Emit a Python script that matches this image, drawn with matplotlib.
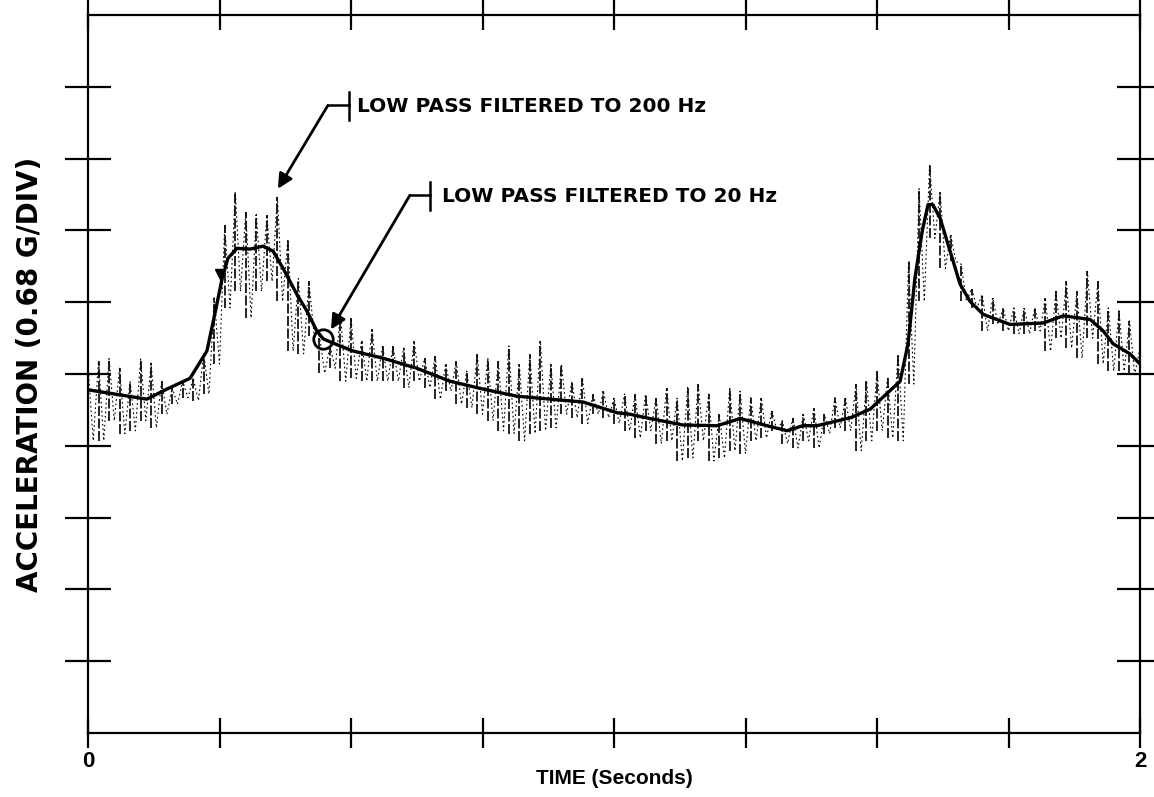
import numpy as np
import matplotlib
matplotlib.use("Agg")
import matplotlib.pyplot as plt

plt.rcParams['font.family'] = ['Liberation Sans', 'DejaVu Sans']
plt.rcParams['font.weight'] = 'bold'

# 20 Hz filtered trace (time in s, acceleration in divisions of 0.68 G)
t_smooth = [0.000, 0.112, 0.150, 0.194, 0.226, 0.241, 0.255, 0.266, 0.283, 0.308,
            0.333, 0.352, 0.371, 0.397, 0.416, 0.435, 0.447, 0.466, 0.504, 0.561,
            0.625, 0.688, 0.751, 0.816, 0.878, 0.941, 1.006, 1.030, 1.068, 1.131,
            1.196, 1.240, 1.291, 1.329, 1.359, 1.386, 1.449, 1.487, 1.544, 1.559,
            1.572, 1.586, 1.597, 1.606, 1.620, 1.639, 1.658, 1.677, 1.702, 1.753,
            1.816, 1.854, 1.905, 1.930, 1.949, 1.981, 2.000]
acc_smooth = [4.78, 4.65, 4.79, 4.94, 5.32, 5.83, 6.33, 6.61, 6.75, 6.74,
              6.78, 6.71, 6.47, 6.11, 5.88, 5.60, 5.49, 5.43, 5.32, 5.22,
              5.08, 4.90, 4.79, 4.69, 4.65, 4.61, 4.46, 4.44, 4.38, 4.29,
              4.28, 4.38, 4.28, 4.21, 4.28, 4.28, 4.39, 4.51, 4.90, 5.42,
              6.33, 6.99, 7.36, 7.36, 7.17, 6.71, 6.25, 6.01, 5.83, 5.69,
              5.71, 5.81, 5.76, 5.60, 5.42, 5.28, 5.14]

# 200 Hz filtered trace, spike extent every 0.02 s
t_raw = np.arange(101) * 0.02
raw_hi = [5.11, 5.18, 5.22, 5.08, 4.90, 5.21, 5.15, 4.90, 4.81, 4.90,
          4.94, 5.28, 6.06, 7.08, 7.54, 7.26, 7.22, 7.22, 7.47, 6.88,
          6.33, 6.29, 5.53, 5.39, 5.83, 5.78, 5.46, 5.63, 5.39, 5.39,
          5.36, 5.46, 5.22, 5.25, 5.14, 5.18, 5.04, 5.28, 5.22, 5.18,
          5.39, 5.14, 5.28, 5.46, 5.14, 5.14, 4.90, 4.94, 4.72, 4.76,
          4.67, 4.72, 4.72, 4.72, 4.67, 4.81, 4.67, 4.81, 4.86, 4.72,
          4.44, 4.81, 4.76, 4.67, 4.67, 4.49, 4.35, 4.39, 4.44, 4.53,
          4.44, 4.67, 4.67, 4.86, 4.90, 5.04, 4.94, 5.28, 6.57, 7.58,
          7.92, 7.54, 6.94, 6.53, 6.19, 6.11, 6.06, 5.92, 5.92, 5.92,
          5.92, 6.06, 6.15, 6.29, 6.15, 6.43, 6.29, 5.92, 5.88, 5.74,
          5.36]
raw_lo = [4.07, 4.07, 4.35, 4.17, 4.21, 4.35, 4.25, 4.44, 4.58, 4.67,
          4.63, 4.72, 5.14, 5.92, 6.15, 5.78, 6.15, 6.29, 6.01, 5.32,
          5.28, 5.53, 5.01, 5.08, 4.90, 4.94, 4.90, 4.90, 4.90, 4.90,
          4.81, 4.90, 4.81, 4.65, 4.76, 4.58, 4.53, 4.44, 4.35, 4.21,
          4.17, 4.07, 4.17, 4.21, 4.25, 4.44, 4.39, 4.31, 4.44, 4.39,
          4.31, 4.21, 4.11, 4.21, 4.03, 4.07, 3.79, 3.83, 4.07, 3.79,
          3.83, 3.93, 3.89, 4.07, 4.11, 4.21, 4.03, 3.97, 4.07, 3.97,
          4.17, 4.25, 4.21, 3.93, 4.07, 4.21, 4.11, 4.07, 4.86, 6.01,
          6.89, 6.47, 6.57, 6.01, 5.92, 5.60, 5.69, 5.60, 5.56, 5.56,
          5.60, 5.32, 5.50, 5.36, 5.22, 5.50, 5.14, 5.04, 5.04, 4.99,
          4.86]

label_200 = "LOW PASS FILTERED TO 200 Hz"
label_20 = "LOW PASS FILTERED TO 20 Hz"

fig = plt.figure(figsize=(11.54, 7.97), dpi=100)
ax = fig.add_axes([88 / 1154, 64 / 797, 1052 / 1154, 718 / 797])

# raw trace: dotted zigzag between peak and trough, plus broken spikes
zig_t = np.column_stack([t_raw, t_raw + 0.01]).ravel()[:-1]
zig_v = np.column_stack([raw_hi, raw_lo]).ravel()[:-1]
ax.plot(zig_t, zig_v, color='black', lw=0.8, ls=(0, (1.5, 2.5)))
ax.vlines(t_raw, raw_lo, raw_hi, color='black', lw=1.2, linestyles=(0, (6, 1.5)))

ax.plot(t_smooth, acc_smooth, color='black', lw=2.4, solid_joinstyle='round',
        solid_capstyle='round')

# markers tagging each trace
ax.plot([0.447], [5.49], 'o', ms=14, mfc='none', mec='black', mew=2)
ax.plot([0.251], [6.39], 'v', ms=7, color='black')

# callouts
ax.plot([0.456, 0.496], [8.74, 8.74], color='black', lw=1.8)
ax.plot([0.496, 0.496], [8.54, 8.93], color='black', lw=1.8)
ax.annotate('', xy=(0.361, 7.58), xytext=(0.456, 8.74),
            arrowprops=dict(arrowstyle='-|>', lw=2, color='black',
                            mutation_scale=22, shrinkA=0, shrinkB=0))
ax.text(0.511, 8.72, label_200, fontsize=14.5, va='center', ha='left',
        family='DejaVu Sans', fontweight='bold')

ax.plot([0.612, 0.650], [7.49, 7.49], color='black', lw=1.8)
ax.plot([0.650, 0.650], [7.28, 7.68], color='black', lw=1.8)
ax.annotate('', xy=(0.462, 5.62), xytext=(0.612, 7.49),
            arrowprops=dict(arrowstyle='-|>', lw=2, color='black',
                            mutation_scale=22, shrinkA=0, shrinkB=0))
ax.text(0.673, 7.47, label_20, fontsize=14.5, va='center', ha='left',
        family='DejaVu Sans', fontweight='bold')

ax.set_xlim(0, 2)
ax.set_ylim(0, 10)
ax.set_xticks(np.arange(9) * 0.25)
ax.set_xticklabels(['0', '', '', '', '', '', '', '', '2'], fontsize=16, fontweight='bold')
ax.set_yticks(np.arange(1, 10))
ax.set_yticklabels([])
ax.tick_params(axis='x', which='both', direction='inout', length=22, width=1.6,
               top=True, bottom=True, pad=2)
ax.tick_params(axis='y', which='both', direction='inout', length=33, width=1.6,
               left=True, right=True)
for s in ax.spines.values():
    s.set_linewidth(1.6)

ax.set_xlabel('TIME (Seconds)', fontsize=15, fontweight='bold', labelpad=-2)
ax.set_ylabel('ACCELERATION (0.68 G/DIV)', fontsize=20, fontweight='bold',
              family='DejaVu Sans', labelpad=12)

fig.savefig('out.png', dpi=100)
